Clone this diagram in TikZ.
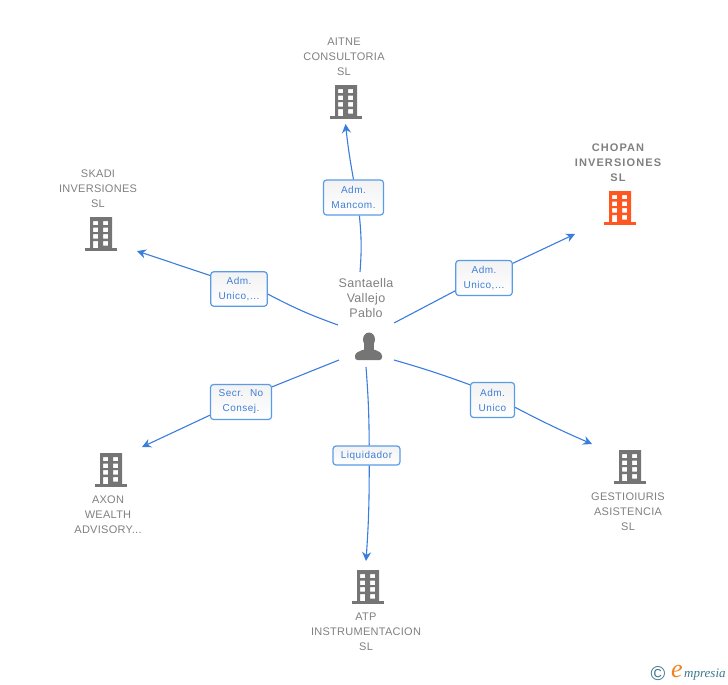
\documentclass[tikz,border=0pt]{standalone}
\usepackage{fontspec}
\setmainfont[LetterSpace=2.5]{Liberation Sans}
\newfontfamily\widefont[LetterSpace=10]{Liberation Sans Bold}
\newfontfamily\rolefont[LetterSpace=5]{Liberation Sans}
\newfontfamily\logofont{Liberation Serif Italic}
\usetikzlibrary{arrows.meta}
\definecolor{linkblue}{RGB}{59, 125, 221}
\definecolor{boxblue}{RGB}{90, 155, 232}
\definecolor{textblue}{RGB}{63, 127, 217}
\definecolor{labelgray}{RGB}{128, 128, 128}
\definecolor{icongray}{RGB}{117, 117, 117}
\definecolor{iconred}{RGB}{255, 87, 34}
\definecolor{logoteal}{RGB}{62, 118, 140}
\definecolor{logoorange}{RGB}{240, 130, 30}
\tikzset{
    firm/.style={text=labelgray, align=center, font=\fontsize{11}{15}\selectfont},
    role/.style={draw=boxblue, line width=1.2pt, rounded corners=3pt, top color=black!5,
        bottom color=white, text=textblue, align=center, inner sep=0pt,
        font=\rolefont\fontsize{10}{15}\selectfont},
    link/.style={draw=linkblue, line width=1.1pt},
    tip/.style={link, -{Stealth[length=9pt, width=9pt, inset=3pt]}}
}
\newcommand{\building}[3]{
    \node[minimum width=32pt, minimum height=34pt, inner sep=0pt] (#1) at (#2) {};
    \begin{scope}[shift={(#2)}]
        \fill[#3, even odd rule] (-11, -17) rectangle (11, 15)
            (-8, -13) rectangle (-3, -9) (2, -13) rectangle (7, -9)
            (-8, -6.5) rectangle (-3, -2) (2, -6.5) rectangle (7, -2)
            (-8, 0) rectangle (-3, 4.5) (2, 0) rectangle (7, 4.5)
            (-8, 7) rectangle (-3, 15) (2, 7) rectangle (7, 11.5);
        \fill[#3] (-16, 14) rectangle (16, 17);
    \end{scope}
}
\begin{document}
\begin{tikzpicture}[x=1pt, y=-1pt]
    \useasboundingbox (0, 0) rectangle (728, 685);

    \building{aitne}{346, 102}{icongray}
    \building{chopan}{620, 208}{iconred}
    \building{skadi}{101, 234}{icongray}
    \building{axon}{111, 470}{icongray}
    \building{atp}{368, 587}{icongray}
    \building{gestio}{630, 467}{icongray}

    \node[firm] (aitne-name) at (344, 57) {AITNE\\CONSULTORIA\\SL};
    \node[firm, font=\widefont\fontsize{11}{15}\selectfont] (chopan-name) at (618, 162.5)
        {CHOPAN\\INVERSIONES\\SL};
    \node[firm] (skadi-name) at (98, 189) {SKADI\\INVERSIONES\\SL};
    \node[firm] (axon-name) at (108, 515) {AXON\\WEALTH\\ADVISORY...};
    \node[firm] (atp-name) at (366, 632) {ATP\\INSTRUMENTACION\\SL};
    \node[firm] (gestio-name) at (628, 512) {GESTIOIURIS\\ASISTENCIA\\SL};
    \node[firm, font=\fontsize{12.5}{15}\selectfont] (person-name) at (366, 298)
        {Santaella\\Vallejo\\Pablo};

    \node[minimum width=28pt, minimum height=28pt, inner sep=0pt] (person) at (369, 346) {};
    \fill[icongray] (369, 339.5) ellipse (6 and 7);
    \fill[icongray] (364, 343) rectangle (374, 350);
    \fill[icongray, rounded corners=2.5pt] (355, 360) -- (355, 353.5) -- (363, 349.5)
        -- (375, 349.5) -- (382, 353.5) -- (382, 360) -- cycle;

    \node[role, minimum width=60pt, minimum height=35pt] (mancom) at (353.5, 197.5)
        {Adm.\\Mancom.};
    \node[role, minimum width=56.5pt, minimum height=34.5pt] (skadi-role) at (239, 289)
        {Adm.\\Unico,...};
    \node[role, minimum width=56.5pt, minimum height=35pt] (chopan-role) at (484, 278)
        {Adm.\\Unico,...};
    \node[role, minimum width=61pt, minimum height=35pt] (secr) at (241, 402)
        {Secr.\ \ No\\Consej.};
    \node[role, minimum width=44pt, minimum height=35pt] (gestio-role) at (492.5, 400)
        {Adm.\\Unico};
    \node[role, minimum width=67pt, minimum height=19pt] (liquid) at (366.5, 455.5)
        {Liquidador};

    \coordinate (from-aitne) at (360, 272);
    \coordinate (from-skadi) at (338, 325);
    \coordinate (from-chopan) at (394, 323);
    \coordinate (from-secr) at (339, 360);
    \coordinate (from-gestio) at (394, 360);
    \coordinate (from-atp) at (366, 367);
    \coordinate (to-aitne) at (345.5, 124);
    \coordinate (to-skadi) at (137, 251);
    \coordinate (to-chopan) at (575, 234);
    \coordinate (to-axon) at (142, 447);
    \coordinate (to-gestio) at (592, 444);
    \coordinate (to-atp) at (366, 561);

    \draw[link] (from-aitne) to[bend right=5] (mancom.-72);
    \draw[tip] (mancom.90) to[bend left=2] (to-aitne);
    \draw[link] (from-skadi) to[bend left=4] (skadi-role.-10);
    \draw[tip] (skadi-role.155) -- (to-skadi);
    \draw[link] (from-chopan) -- (chopan-role.204);
    \draw[tip] (chopan-role.27) -- (to-chopan);
    \draw[link] (from-secr) -- (secr.26);
    \draw[tip] (secr.203) -- (to-axon);
    \draw[link] (from-gestio) to[bend left=2] (gestio-role.146);
    \draw[tip] (gestio-role.-18) to[bend right=2] (to-gestio);
    \draw[link] (from-atp) to[bend left=2] (liquid.75);
    \draw[tip] (liquid.-75) to[bend left=2] (to-atp);

    \node[text=logoteal, font=\fontsize{20}{20}\selectfont] (logo-mark) at (658, 674) {©};
    \node[text=logoorange, font=\logofont\fontsize{26}{26}\selectfont] (logo-e) at (677, 671.5) {e};
    \node[text=logoteal, font=\logofont\fontsize{13}{13}\selectfont, anchor=west, inner sep=0pt]
        (logo-name) at (684, 674.5) {mpresia};
\end{tikzpicture}
\end{document}
